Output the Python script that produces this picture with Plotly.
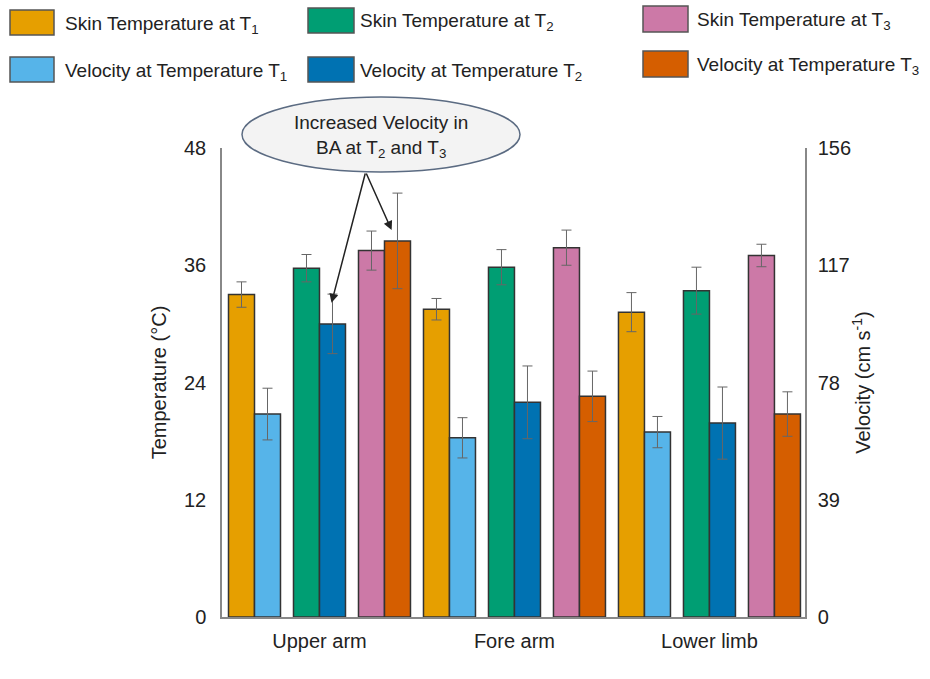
import plotly.graph_objects as go

# ---------------- data ----------------
categories = ["Upper arm", "Fore arm", "Lower limb"]

skin_t1 = [33.0, 31.5, 31.2]
skin_t1_err = [1.3, 1.1, 2.0]
skin_t2 = [35.7, 35.8, 33.4]
skin_t2_err = [1.4, 1.8, 2.4]
skin_t3 = [37.5, 37.8, 37.0]
skin_t3_err = [2.0, 1.8, 1.15]

vel_t1 = [67.5, 59.6, 61.5]
vel_t1_err = [8.6, 6.7, 5.2]
vel_t2 = [97.5, 71.4, 64.5]
vel_t2_err = [9.9, 12.1, 12.0]
vel_t3 = [125.1, 73.4, 67.5]
vel_t3_err = [15.9, 8.4, 7.4]

temp_ticks = [0, 12, 24, 36, 48]
vel_ticks = [0, 39, 78, 117, 156]

skin_names = ["Skin Temperature at T<sub>1</sub>", "Skin Temperature at T<sub>2</sub>",
              "Skin Temperature at T<sub>3</sub>"]
vel_names = ["Velocity at Temperature T<sub>1</sub>", "Velocity at Temperature T<sub>2</sub>",
             "Velocity at Temperature T<sub>3</sub>"]
skin_colors = ["#E69F00", "#009E73", "#CC79A7"]
vel_colors = ["#56B4E9", "#0072B2", "#D55E00"]

skin_vals = [skin_t1, skin_t2, skin_t3]
skin_errs = [skin_t1_err, skin_t2_err, skin_t3_err]
vel_vals = [vel_t1, vel_t2, vel_t3]
vel_errs = [vel_t1_err, vel_t2_err, vel_t3_err]

FONT = "Liberation Sans, Arial, sans-serif"
FS = 19
TFS = 20
W, H = 930, 679
ML, MR, MT, MB = 222, 125, 148, 62
PW, PH = W - ML - MR, H - MT - MB


def px(x):
    return (x - ML) / PW


def py(y):
    return (H - MB - y) / PH


fig = go.Figure()
bw = 0.4
for t in range(3):
    xs = [3 * g + t - bw / 2 for g in range(len(categories))]
    fig.add_trace(go.Bar(
        x=xs, y=skin_vals[t], width=bw, name=skin_names[t],
        marker=dict(color=skin_colors[t], line=dict(color="#333333", width=1.5)),
        error_y=dict(type="data", array=skin_errs[t], color="#666666", thickness=1, width=5),
        yaxis="y", showlegend=False))
for t in range(3):
    xs = [3 * g + t + bw / 2 for g in range(len(categories))]
    fig.add_trace(go.Bar(
        x=xs, y=vel_vals[t], width=bw, name=vel_names[t],
        marker=dict(color=vel_colors[t], line=dict(color="#333333", width=1.5)),
        error_y=dict(type="data", array=vel_errs[t], color="#666666", thickness=1, width=5),
        yaxis="y2", showlegend=False))

shapes = []
annotations = []

# custom legend (large swatches as in the reference)
leg_cols = [(10, 54, 63), (308, 354, 358), (643, 688, 695)]
leg_rows = [[(10, 35), (57, 82)], [(8, 33), (57, 82)], [(6, 32), (51, 77)]]
for c in range(3):
    x0, x1, tx = leg_cols[c]
    for r, (names, colors) in enumerate([(skin_names, skin_colors), (vel_names, vel_colors)]):
        y0, y1 = leg_rows[c][r]
        shapes.append(dict(type="rect", xref="paper", yref="paper",
                           x0=px(x0), x1=px(x1), y0=py(y1), y1=py(y0),
                           fillcolor=colors[c], line=dict(color="#555555", width=1.5)))
        annotations.append(dict(text=names[c], xref="paper", yref="paper",
                                x=px(tx), y=py((y0 + y1) / 2 + 2), xanchor="left", yanchor="middle",
                                showarrow=False, font=dict(family=FONT, size=FS, color="#222222")))

# callout ellipse
shapes.append(dict(type="circle", xref="paper", yref="paper",
                   x0=px(242), x1=px(520), y0=py(172), y1=py(97),
                   fillcolor="#f3f3f3", line=dict(color="#5b6b82", width=1.5), layer="above"))
annotations.append(dict(text="Increased Velocity in<br>BA at T<sub>2</sub> and T<sub>3</sub>",
                        xref="paper", yref="paper", x=px(381), y=py(136),
                        xanchor="center", yanchor="middle", showarrow=False,
                        font=dict(family=FONT, size=FS, color="#222222")))
# arrows from ellipse to the BA velocity bars
for tipx, tipy in [(1.185, 104.5), (2.11, 128.7)]:
    annotations.append(dict(text="", x=tipx, y=tipy, xref="x", yref="y2",
                            ax=1.71, ay=148.0, axref="x", ayref="y2",
                            showarrow=True, arrowhead=2, arrowsize=1.2, arrowwidth=1.5,
                            arrowcolor="#222222", standoff=0))

fig.update_layout(
    width=W, height=H,
    margin=dict(l=ML, r=MR, t=MT, b=MB),
    paper_bgcolor="white", plot_bgcolor="white",
    barmode="overlay",
    font=dict(family=FONT, size=FS, color="#222222"),
    shapes=shapes, annotations=annotations,
    xaxis=dict(range=[-0.5, 8.47], tickvals=[3 * g + 1 for g in range(len(categories))],
               ticktext=categories, showline=True, linecolor="#888888", linewidth=1.5,
               ticks="outside", ticklen=5, tickcolor="rgba(0,0,0,0)",
               showgrid=False, zeroline=False, tickfont=dict(size=TFS)),
    yaxis=dict(range=[0, 48], tickvals=temp_ticks, showline=True, linecolor="#888888",
               linewidth=1.5, ticks="outside", ticklen=10, tickcolor="rgba(0,0,0,0)",
               showgrid=False, zeroline=False, tickfont=dict(size=TFS),
               title=dict(text="Temperature (°C)", font=dict(size=TFS), standoff=12)),
    yaxis2=dict(range=[0, 156], tickvals=vel_ticks, overlaying="y", side="right",
                showline=True, linecolor="#888888", linewidth=1.5, ticks="outside",
                ticklen=7, tickcolor="rgba(0,0,0,0)", showgrid=False, zeroline=False,
                tickfont=dict(size=TFS),
                title=dict(text="Velocity (cm s<sup>-1</sup>)", font=dict(size=TFS), standoff=6)),
)

fig.write_html("out.html", config={"displayModeBar": False},
               post_script="document.body.style.margin='0';")
